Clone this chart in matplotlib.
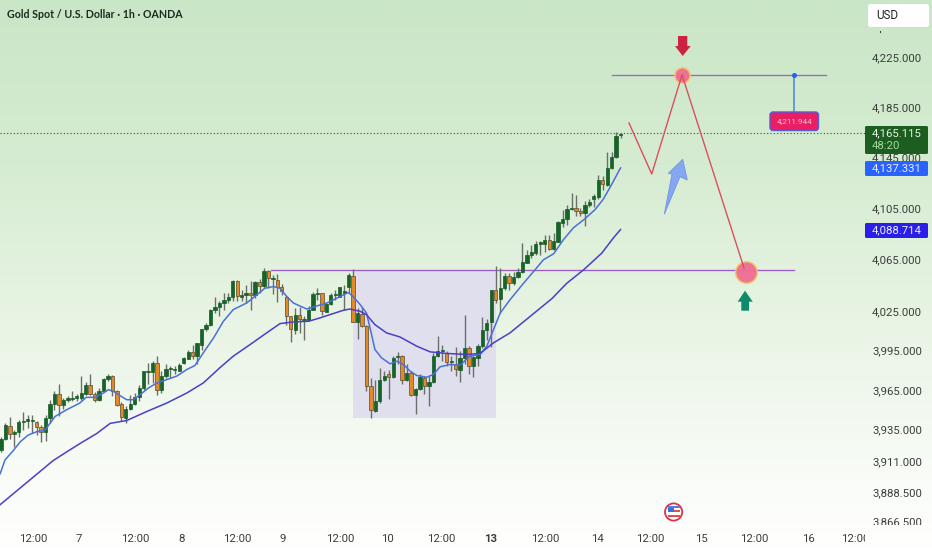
import numpy as np
import matplotlib
matplotlib.use("Agg")
import matplotlib.pyplot as plt
from matplotlib.colors import LinearSegmentedColormap
from matplotlib.patches import Polygon, FancyBboxPatch, Circle, Rectangle
from matplotlib.transforms import Bbox

TITLE = "Gold Spot / U.S. Dollar · 1h · OANDA"

opens = [3919.4,3928.3,3937.7,3931.6,3933.4,3941.0,3941.8,3941.5,3941.0,3937.2,
3933.4,3943.5,3954.5,3961.8,3953.2,3957.5,3958.3,3958.5,3959.0,3962.1,
3968.7,3962.1,3957.0,3964.4,3972.8,3975.3,3963.9,3954.5,3943.5,3950.4,
3954.5,3959.6,3966.4,3978.6,3978.3,3985.0,3965.1,3975.8,3980.4,3979.9,
3979.6,3985.0,3988.5,3993.8,3991.0,3999.4,4010.9,4014.2,4025.6,4028.1,
4031.2,4033.2,4035.8,4048.2,4035.8,4037.0,4039.3,4037.0,4047.2,4044.4,
4055.8,4049.5,4049.0,4043.9,
4035.8,4021.0,4010.8,4022.0,4018.2,4018.0,4026.1,4038.3,4038.8,4024.6,
4030.7,4037.3,4036.2,4039.3,4043.4,4052.2,4016.4,4023.0,4013.9,3968.2,
3948.9,3956.2,3972.7,3977.0,3974.5,3989.8,3990.5,3972.7,3977.8,3960.8,
3965.6,3974.0,3967.7,3971.0,3991.0,3994.1,3993.1,3985.9,3984.7,3979.9,
3989.3,3996.9,3982.9,3989.3,3998.1,4010.8,4016.7,4041.3,4034.2,
4042.4,4052.1,4046.8,4051.0,4054.9,4062.5,4068.5,4069.8,4077.2,4076.9,
4080.3,4073.0,4078.7,4093.4,4096.5,4104.3,4105.1,4103.0,4101.2,4107.7,
4111.7,4113.8,4127.3,4123.4,4136.2,4144.9,4162.4]

highs = [3929.6,3939.7,3944.3,3934.7,3942.3,3948.6,3946.1,3946.1,3941.8,3938.5,
3946.1,3957.5,3963.9,3969.5,3958.8,3960.1,3964.4,3962.1,3975.3,3970.7,
3976.6,3963.4,3966.4,3974.0,3976.6,3976.1,3965.1,3955.5,3952.4,3961.3,
3962.6,3969.0,3979.6,3985.5,3986.7,3990.5,3979.1,3984.2,3983.4,3982.9,
3985.5,3990.0,3995.6,3998.7,4000.7,4011.4,4015.9,4026.6,4035.8,4032.4,
4038.8,4038.8,4049.0,4049.0,4041.3,4045.2,4048.5,4048.5,4049.5,4057.9,
4056.6,4052.8,4053.5,4045.9,
4036.3,4021.5,4027.3,4028.1,4021.0,4028.6,4040.0,4042.6,4039.3,4031.2,
4038.8,4041.3,4043.9,4045.1,4054.0,4057.3,4027.3,4028.1,4014.6,3974.0,
3972.7,3981.6,3979.1,3979.8,3990.5,3993.6,3991.5,3984.2,3979.1,3966.4,
3976.6,3975.8,3975.3,3993.1,4005.8,3999.4,3994.3,3990.5,3997.4,3994.3,
4022.3,3998.1,3991.0,3999.9,4020.2,4019.0,4041.3,4059.6,4058.6,
4054.2,4054.2,4055.5,4058.1,4077.7,4072.5,4076.4,4079.0,4079.0,4084.2,
4084.2,4085.5,4094.7,4103.3,4107.0,4116.9,4114.8,4105.1,4110.4,4111.7,
4115.6,4131.3,4130.0,4149.0,4149.0,4165.3,4164.5]

lows = [3918.2,3927.0,3928.3,3922.0,3929.6,3934.7,3935.9,3932.1,3930.9,3925.8,
3926.5,3939.7,3949.9,3945.3,3950.7,3955.5,3956.3,3956.3,3957.5,3961.3,
3960.8,3955.5,3956.3,3963.9,3971.5,3960.1,3952.4,3941.8,3940.2,3949.9,
3953.7,3956.3,3965.1,3969.7,3970.2,3961.3,3962.6,3974.0,3974.0,3976.6,
3979.1,3984.2,3988.0,3988.5,3984.2,3995.6,4009.6,4013.4,4023.6,4021.0,
4026.1,4031.2,4032.4,4032.4,4032.4,4031.2,4025.6,4035.0,4038.8,4042.6,
4042.6,4038.0,4031.7,4037.5,
4014.7,4001.2,4007.8,4008.3,4002.7,4017.2,4025.6,4033.7,4022.3,4024.0,
4029.9,4033.2,4035.5,4026.1,4038.8,4016.4,4003.7,4012.9,3963.8,3943.5,
3948.6,3955.0,3971.5,3958.3,3974.0,3984.2,3969.4,3971.5,3960.0,3946.6,
3965.1,3962.1,3952.4,3970.2,3990.0,3986.7,3982.9,3979.1,3975.3,3970.7,
3984.2,3977.3,3974.8,3982.9,3996.9,4003.2,3997.6,4031.2,4023.5,
4041.1,4041.1,4045.0,4050.2,4054.2,4062.0,4065.9,4068.5,4068.5,4070.4,
4072.5,4072.5,4078.2,4090.2,4091.3,4103.3,4099.1,4098.6,4090.8,4105.9,
4105.9,4112.2,4119.0,4122.6,4135.7,4144.3,4160.0]

closes = [3928.3,3938.5,3931.6,3933.4,3940.5,3941.8,3942.3,3942.0,3937.2,3933.4,
3943.5,3954.5,3962.1,3953.2,3957.5,3958.5,3958.8,3960.6,3962.6,3968.7,
3962.1,3957.0,3964.4,3973.3,3975.3,3963.9,3953.7,3944.3,3950.7,3954.5,
3959.3,3966.4,3979.1,3979.6,3985.5,3965.1,3975.8,3980.4,3981.1,3980.4,
3983.7,3989.0,3993.6,3991.0,4000.2,4010.9,4014.2,4026.1,4028.4,4031.2,
4033.2,4035.8,4048.2,4036.3,4037.3,4039.3,4037.0,4047.2,4044.6,4055.8,
4050.2,4050.2,4043.9,4040.8,
4021.0,4011.3,4022.3,4019.2,4019.0,4026.1,4038.0,4039.3,4025.3,4030.7,
4037.0,4038.3,4043.4,4039.8,4052.5,4016.4,4023.5,4013.4,3968.2,3949.4,
3956.2,3972.7,3975.8,3974.5,3989.3,3990.5,3972.7,3977.8,3960.8,3965.6,
3974.5,3967.7,3971.0,3991.0,3994.8,3994.8,3986.2,3986.2,3980.4,3989.3,
3996.9,3982.9,3989.8,3998.6,4010.8,4015.9,4041.3,4033.7,4042.6,
4052.1,4046.8,4051.0,4054.9,4062.8,4068.5,4070.4,4077.2,4078.2,4080.3,
4073.2,4079.0,4093.9,4096.5,4104.3,4104.9,4102.5,4101.2,4107.7,4109.6,
4114.3,4126.8,4123.9,4136.2,4145.1,4162.1,4163.4]

fast_i = [-0.2,0.9,2.8,4.3,6.1,8.0,9.9,11.0,12.1,14.7,17.7,19.1,21.1,23.0,24.1,25.2,26.7,28.2,29.7,31.2,
33.1,35.0,36.8,39.4,41.7,43.5,45.4,47.7,49.9,52.1,55.1,57.4,59.2,61.1,62.6,64.1,65.6,68.6,70.5,73.1,
76.1,77.9,79.0,80.6,82.0,82.8,83.9,85.4,87.3,88.8,90.3,91.8,93.3,95.5,97.0,98.5,100.7,103.0,105.2,107.5,
109.0,110.5,112.0,114.2,117.2,119.8,121.7,124.0,126.2,128.4,131.0,133.3,135.1,137.0,139.0]
fast_ema = [3901.9,3912.3,3919.4,3925.8,3930.9,3933.4,3934.7,3939.7,3944.8,3949.9,3955.0,3959.3,3959.3,3962.6,3965.1,3963.9,3960.6,3957.5,3957.5,3961.3,
3966.4,3970.2,3972.3,3975.3,3980.4,3983.4,3993.1,4004.5,4017.2,4026.1,4031.2,4037.5,4042.6,4043.9,4042.6,4036.3,4031.2,4026.6,4028.6,4031.2,
4036.2,4039.3,4036.2,4029.9,4023.5,4012.1,3995.6,3989.2,3984.7,3986.7,3984.2,3979.1,3975.8,3974.5,3976.6,3982.4,3984.2,3983.7,3990.5,3991.8,
3998.1,4010.8,4023.5,4033.7,4046.3,4056.8,4064.6,4069.3,4080.3,4089.4,4096.5,4103.8,4111.7,4123.4,4136.5]

slow_i = [-0.2,11.7,14.7,17.7,21.5,24.5,28.2,32.7,37.2,41.7,45.4,49.1,52.1,55.9,59.6,62.6,65.6,69.0,71.6,73.1,
76.8,78.3,80.6,82.0,83.9,86.5,89.5,93.3,96.3,100.0,104.5,107.5,110.5,114.2,123.6,126.9,130.7,134.8,137.4,139.0]
slow_ema = [3879.0,3911.8,3918.2,3924.5,3932.1,3939.7,3941.8,3948.6,3955.0,3962.6,3970.2,3981.7,3990.5,3999.4,4008.3,4015.4,4016.7,4017.2,4019.8,4021.5,
4025.6,4026.6,4024.8,4022.3,4014.6,4008.3,4005.2,3998.1,3993.8,3992.6,3991.8,3992.6,4000.7,4008.3,4034.6,4046.3,4056.8,4069.8,4081.6,4088.1]

zig_i = [140.9,146.0,152.8,166.7]
zig_price = [4172.1,4131.7,4210.6,4058.3]

y_ticks = [4225,4185,4145,4105,4065,4025,3995,3965,3935,3911,3888.5,3866.5]
x_tick_pos = [7.18,17.5,30.07,40.4,52.95,63.3,76.06,86.8,98.7,109.9,122.05,133.9,145.6,157.05,168.9,181.1,191.6]
x_tick_txt = ["12:00","7","12:00","8","12:00","9","12:00","10","12:00","13","12:00","14","12:00","15","12:00","16","12:00"]

last_price = 4164.0
upper_level = 4210.2
lower_level = 4056.6
zone_low = 3943.7

W, H = 932, 550
FONT = "Roboto"
plt.rcParams["font.family"] = [FONT, "DejaVu Sans"]
fig = plt.figure(figsize=(W/100, H/100), dpi=100)

# background gradient
bg = fig.add_axes([0, 0, 1, 1], zorder=0)
cmap = LinearSegmentedColormap.from_list("bg", [(0, "#c9e6c6"), (0.3, "#d6ecd2"), (0.55, "#e6f3e2"), (0.8, "#f5faf3"), (0.955, "#fdfefc"), (1, "#ffffff")])
bg.imshow(np.linspace(0, 1, 256).reshape(-1, 1), aspect="auto", cmap=cmap, extent=[0, 1, 0, 1], origin="upper", vmin=0, vmax=1)
bg.axis("off")

# price chart
ax = fig.add_axes([0, (H-525)/H, 865/W, 525/H], zorder=1)
ax.patch.set_alpha(0)
ax.set_yscale("log")
idx = np.arange(len(opens))
o, h, l, c = map(np.array, (opens, highs, lows, closes))
up = c >= o
ax.fill_betweenx([lower_level, zone_low], 79.0, 111.1, color="#dfdfee", lw=0, zorder=1)
ax.plot([60.5, 178.0], [lower_level]*2, color="#9a5cc4", lw=0.95, zorder=2)
ax.plot([137.0, 185.0], [upper_level]*2, color="#a862c4", lw=0.95, zorder=2)
ax.axhline(last_price, color="#1e5a24", lw=0.8, ls=(0, (1, 2)), zorder=2)
ax.vlines(idx, l, h, color="#6a6f6a", lw=1.0, zorder=3)
colors = np.where(up, "#176428", "#e08a2c")
edges = np.where(up, "#155a24", "#5a4b30")
ax.bar(idx, np.maximum(np.abs(c-o), 0.8), bottom=np.minimum(o, c), width=0.74, color=colors, edgecolor=edges, lw=0.5, zorder=4)
ax.plot(fast_i, fast_ema, color="#4a70d8", lw=1.1, zorder=5)
ax.plot(slow_i, slow_ema, color="#4a3fc8", lw=1.1, zorder=5)
ax.plot([152.8], [upper_level], "o", ms=11, mfc="#ef6d92", mec="#f5c668", mew=1.1, zorder=6, alpha=0.95)
ax.plot([167.2], [lower_level-1.2], "o", ms=15.5, mfc="#ef6d92", mec="#f5c668", mew=1.1, zorder=6, alpha=0.95)
ax.plot(zig_i, zig_price, color="#d8505f", lw=1.0, zorder=7)

ax.set_xlim(-0.224, 193.85)
ax.set_ylim(3864.0, 4271.2)
for s in ax.spines.values():
    s.set_visible(False)
ax.minorticks_off()
ax.yaxis.tick_right()
ax.set_yticks(y_ticks, [f"{v:,.3f}" for v in y_ticks])
ax.yaxis.set_minor_locator(matplotlib.ticker.NullLocator())
ax.tick_params(axis="y", length=0, pad=5, labelsize=8.2, labelcolor="#3a3f3a")
ax.set_xticks(x_tick_pos, x_tick_txt)
ax.tick_params(axis="x", length=0, pad=6.5, labelsize=8.2, labelcolor="#3a3f3a")
clip_box = Bbox([[0, H-525], [W, H]])
for t in ax.get_yticklabels():
    t.set_clip_box(clip_box); t.set_clip_on(True)
clip_x = Bbox([[0, 0], [865, H]])
for t, s in zip(ax.get_xticklabels(), x_tick_txt):
    t.set_clip_box(clip_x); t.set_clip_on(True)
    if s == "13":
        t.set_fontweight("bold")

# overlay in pixel space for the drawn annotations and price tags
ov = fig.add_axes([0, 0, 1, 1], zorder=2)
ov.set_xlim(0, W); ov.set_ylim(H, 0); ov.axis("off")

def tag(y0, y1, col, txt):
    ov.add_patch(FancyBboxPatch((865, y0), 63, y1-y0, boxstyle="round,pad=0,rounding_size=1.5", fc=col, ec="none", zorder=3))
    ov.text(872, (y0+y1)/2, txt, color="#e8eefc", fontsize=8.2, va="center", ha="left", zorder=4)

ov.add_patch(FancyBboxPatch((865, 126), 63, 28, boxstyle="round,pad=0,rounding_size=1.5", fc="#1b5e20", ec="none", zorder=3))
ov.text(872, 133, "4,165.115", color="#e6f2e4", fontsize=8.2, va="center", zorder=4)
ov.text(872, 146, "48:20", color="#a6d6a0", fontsize=8.2, va="center", zorder=4)
tag(161, 176, "#2962ff", "4,137.331")
tag(223, 238, "#2a1ee8", "4,088.714")

ov.add_patch(FancyBboxPatch((868, 4), 61, 23, boxstyle="round,pad=0,rounding_size=2.5", fc="#ffffff", ec="none", zorder=3))
ov.text(876, 15.7, "USD", color="#222222", fontsize=8.4, va="center", zorder=4)
ov.plot([879.5, 879.5], [30.8, 32.2], color="#3a3f3a", lw=0.8, zorder=3)

ov.text(7, 15, TITLE, family=["Lato", "DejaVu Sans"], fontweight="bold", fontsize=7.65, color="#1c2b22", va="center")

# level tag
ov.plot([793.7, 793.7], [75, 111], color="#4a86d0", lw=1.1, zorder=2)
ov.plot([793.7], [74.5], "o", ms=2.6, color="#2a62e0", zorder=3)
ov.add_patch(FancyBboxPatch((770, 112), 48.5, 18.5, boxstyle="round,pad=0,rounding_size=3", fc="#e91e63", ec="#5a5ad8", lw=1, zorder=3))
ov.text(794.3, 121.5, "4,211.944", color="#ffc4d6", fontsize=5.9, ha="center", va="center", zorder=4)

# arrows
ov.add_patch(Polygon([(678,36),(687.3,36),(687.3,46),(690.7,46),(682.7,56),(675,46),(678,46)], closed=True, fc="#cc2340", ec="none"))
ov.add_patch(Polygon([(745,290.7),(752.7,301.7),(749,301.7),(749,310.7),(741.3,310.7),(741.3,301.7),(737.7,301.7)], closed=True, fc="#0f8a6a", ec="none"))
ov.add_patch(Polygon([(682.7,159.3),(687.3,180),(680,176.7),(664.3,214.3),(672,174),(668.3,173.3)], closed=True, fc="#86a6f2", ec="#6f94ea", lw=0.6))

# calendar flag
fx, fy = 673.6, 512
ov.add_patch(Circle((fx, fy), 8.6, fc="#ffffff", ec="#e0304a", lw=1.3))
ov.add_patch(Rectangle((fx-6, fy-6), 12, 1.6, fc="#4a86e0", ec="none"))
ov.add_patch(Rectangle((fx-6, fy-4.5), 6, 4.8, fc="#3a70d8", ec="none"))
ov.add_patch(Rectangle((fx, fy-2), 6.5, 2, fc="#e25050", ec="none"))
ov.add_patch(Rectangle((fx-6, fy+2.5), 12, 2.4, fc="#e25050", ec="none"))

fig.savefig("out.png", dpi=100)
